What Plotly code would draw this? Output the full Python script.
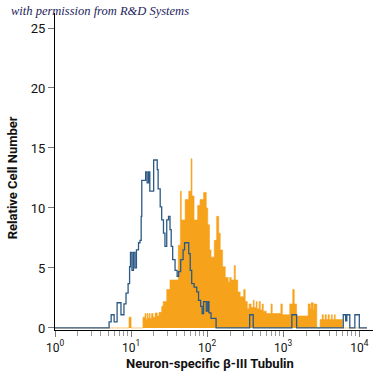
import plotly.graph_objects as go

# Channel scale: 256 channels per decade (4-decade log scale), bin start channel + relative count
blue_channels = [0, 182, 189, 199, 209, 222, 232, 239, 246, 251, 254, 259, 264, 269, 274, 281, 286, 290,
                 292, 305, 310, 315, 319, 332, 344, 347, 354, 359, 365, 370, 376, 382, 387, 391, 396,
                 404, 411, 416, 423, 431, 436, 450, 455, 460, 468, 477, 483, 490, 495, 500, 509, 514,
                 518, 525, 542, 655, 667, 797, 813, 970, 978, 982, 992, 1009, 1024, 1050]
blue_counts = [0, 0.5, 1.1, 0.5, 2.1, 1.1, 2.0, 2.9, 3.7, 5.1, 6.3, 4.8, 6.3, 5.0, 6.5, 7.1, 7.3, 9.3,
               12.3, 13.0, 12.1, 13.0, 11.4, 14.0, 13.2, 11.6, 10.1, 9.0, 7.9, 6.8, 9.0, 9.3, 8.2, 6.8, 5.7,
               4.8, 4.3, 4.7, 5.7, 6.5, 7.1, 6.2, 4.8, 3.7, 3.4, 3.0, 2.3, 1.8, 1.2, 2.2, 1.4, 2.2,
               1.25, 0.8, 0, 1.1, 0, 1.1, 0, 1.1, 0.6, 1.1, 0, 1.1, 0, 0]

orange_channels = [0, 249, 256, 296, 303, 306, 310, 313, 317, 320, 325, 330, 337, 344, 350, 359, 364, 376,
                   387, 415, 422, 425, 438, 450, 458, 461, 468, 480, 488, 500, 509, 514, 520, 525, 536,
                   544, 551, 556, 564, 573, 583, 588, 593, 603, 607, 615, 623, 635, 640, 647, 653, 660,
                   667, 670, 677, 680, 687, 691, 697, 701, 711, 727, 731, 760, 765, 790, 800, 805, 813,
                   852, 859, 862, 869, 872, 881, 892, 899, 903, 909, 913, 919, 923, 930, 933, 940, 943,
                   967, 1050]
orange_counts = [0, 0.9, 0, 0.9, 1.2, 0.7, 1.2, 0.8, 1.2, 0.8, 1.2, 0.9, 1.25, 1.0, 1.3, 1.8, 2.2, 3.2,
                 4.0, 6.9, 11.4, 9.0, 10.7, 11.4, 14.1, 11.0, 9.0, 10.2, 10.7, 11.3, 10.0, 8.6, 6.5, 5.9, 7.3,
                 9.3, 7.9, 6.5, 5.1, 4.2, 3.8, 4.2, 4.0, 5.2, 4.0, 3.0, 2.6, 3.2, 2.2, 1.6, 2.0, 1.7,
                 2.3, 1.7, 2.2, 1.6, 2.2, 1.5, 2.0, 1.4, 1.2, 2.0, 1.2, 2.0, 1.1, 2.0, 3.2, 2.0, 1.0,
                 2.0, 1.6, 2.1, 1.5, 2.0, 0, 0.7, 1.1, 0.7, 1.1, 0.7, 1.1, 0.7, 1.1, 0.7, 1.1, 0.7,
                 0, 0]

CHANNELS_PER_DECADE = 256

x_tick_vals = [1, 10, 100, 1000, 10000]
x_tick_text = ["10<sup>0</sup>", "10<sup>1</sup>", "10<sup>2</sup>", "10<sup>3</sup>", "10<sup>4</sup>"]
y_tick_vals = [0, 5, 10, 15, 20, 25]

x_title = "Neuron-specific β-III Tubulin"
y_title = "Relative Cell Number"
credit = "with permission from R&D Systems"


def to_intensity(chs):
    return [10 ** (c / CHANNELS_PER_DECADE) for c in chs]


minor_vals = [m * 10 ** k for k in range(4) for m in range(2, 10)]

font_main = "Roboto, Liberation Sans, sans-serif"

fig = go.Figure()
fig.add_trace(go.Scatter(
    x=to_intensity(orange_channels), y=orange_counts, mode="lines", line_shape="hv",
    line=dict(color="#f7a21b", width=0.6), fill="tozeroy", fillcolor="#f7a21b",
    hoverinfo="skip", showlegend=False))
fig.add_trace(go.Scatter(
    x=to_intensity(blue_channels), y=blue_counts, mode="lines", line_shape="hv",
    line=dict(color="#2c5a85", width=1.3), hoverinfo="skip", showlegend=False))

fig.update_layout(
    width=375, height=375,
    margin=dict(l=55, r=2, t=13, b=45, autoexpand=False),
    paper_bgcolor="white", plot_bgcolor="white",
    font=dict(family=font_main, size=13, color="#111"),
    xaxis=dict(
        type="log", range=[0, 4.18], automargin=False,
        tickvals=x_tick_vals, ticktext=x_tick_text,
        ticks="outside", ticklen=6, tickcolor="#777", tickwidth=1,
        showline=True, linecolor="black", linewidth=1.2,
        showgrid=False, zeroline=False,
        minor=dict(tickvals=minor_vals, ticks="outside", ticklen=5, tickcolor="#999", showgrid=False),
        tickfont=dict(family=font_main, size=12, color="#111"),
    ),
    yaxis=dict(
        range=[-0.17, 26.25], automargin=False,
        tickvals=y_tick_vals,
        ticks="outside", ticklen=6, tickcolor="#777", tickwidth=1,
        showline=True, linecolor="black", linewidth=1.2,
        showgrid=False, zeroline=False,
        tickfont=dict(family=font_main, size=13, color="#111"),
    ),
    annotations=[
        dict(text="<i>" + credit + "</i>", xref="paper", yref="paper", x=-0.145, y=1.0,
             xanchor="left", yanchor="middle", yshift=2, showarrow=False,
             font=dict(family="Liberation Serif, DejaVu Serif, serif", size=12.5, color="#1c1c5c")),
        dict(text="<b>" + y_title + "</b>", xref="paper", yref="paper", x=-0.135, y=0.479,
             xanchor="center", yanchor="middle", textangle=-90, showarrow=False,
             font=dict(family=font_main, size=13, color="#111")),
        dict(text="<b>" + x_title + "</b>", xref="paper", yref="paper", x=0.487, y=-0.107,
             xanchor="center", yanchor="middle", showarrow=False,
             font=dict(family=font_main, size=13, color="#111")),
    ],
)

fig.write_html("out.html", config={"displayModeBar": False},
               post_script="document.body.style.margin='0';")
